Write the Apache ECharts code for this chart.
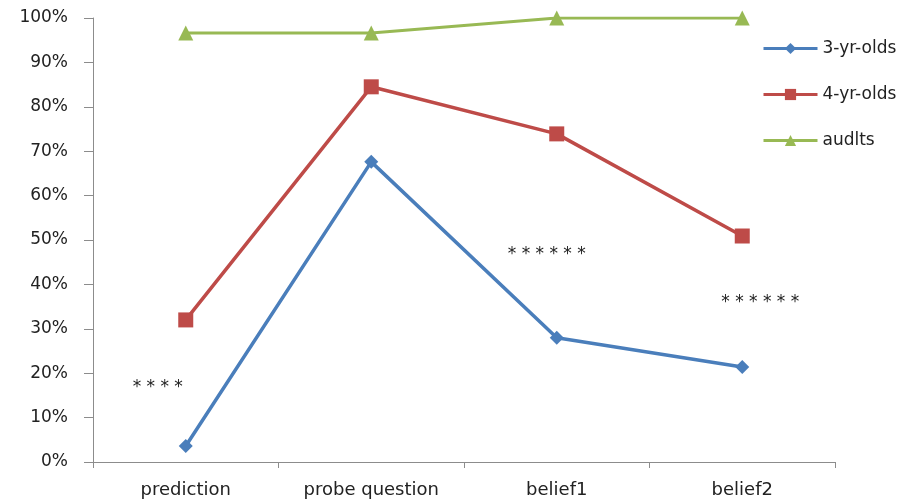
<!DOCTYPE html>
<html><head><meta charset="utf-8">
<script src="https://cdn.jsdelivr.net/npm/echarts@6/dist/echarts.min.js"></script>
<style>html,body{margin:0;padding:0;background:#fff}#c{width:917px;height:502px}</style>
</head><body><div id="c"></div>
<script>
var categories = ['prediction', 'probe question', 'belief1', 'belief2'];
var threeYr = [0.036, 0.676, 0.28, 0.214];
var fourYr = [0.32, 0.845, 0.739, 0.509];
var adults = [0.966, 0.966, 1.0, 1.0];
var yTicks = [0, 0.1, 0.2, 0.3, 0.4, 0.5, 0.6, 0.7, 0.8, 0.9, 1.0];
var annotations = [
  {cat: 'prediction', value: 0.168, text: '* * * *', dx: -28},
  {cat: 'belief1', value: 0.468, text: '* * * * * *', dx: -10},
  {cat: 'belief2', value: 0.358, text: '* * * * * *', dx: 18}
];

var font = 'DejaVu Sans';
var chart = echarts.init(document.getElementById('c'));
chart.setOption({
  animation: false,
  backgroundColor: '#fff',
  grid: {left: 93, right: 82, top: 18, bottom: 40, containLabel: false},
  legend: {
    orient: 'vertical', left: 757, top: 35,
    itemWidth: 54, itemHeight: 14, itemGap: 29,
    lineStyle: {width: 3},
    textStyle: {fontFamily: font, fontSize: 17, color: '#222'},
    data: ['3-yr-olds', '4-yr-olds', 'audlts']
  },
  xAxis: {
    type: 'category', data: categories, boundaryGap: true,
    axisLine: {lineStyle: {color: '#8c8c8c', width: 1}},
    axisTick: {show: true, length: 6, alignWithLabel: false, lineStyle: {color: '#8c8c8c'}},
    axisLabel: {fontFamily: font, fontSize: 18, color: '#222', margin: 19}
  },
  yAxis: {
    type: 'value', min: 0, max: 1, interval: 0.1,
    splitLine: {show: false},
    axisLine: {show: true, lineStyle: {color: '#8c8c8c', width: 1}},
    axisTick: {show: true, length: 9, lineStyle: {color: '#8c8c8c'}},
    axisLabel: {fontFamily: font, fontSize: 17, color: '#222', margin: 25,
      formatter: function (v) { return Math.round(v * 100) + '%'; }}
  },
  series: [
    {name: '3-yr-olds', type: 'line', data: threeYr, symbol: 'diamond', symbolSize: 14,
     color: '#4a7ebb', lineStyle: {width: 3.5}, itemStyle: {color: '#4a7ebb'},
     markPoint: {
       symbol: 'circle', symbolSize: 0, silent: true,
       label: {show: true, fontFamily: font, fontSize: 17, color: '#222'},
       data: annotations.map(function (a) {
         return {coord: [a.cat, a.value], value: a.text,
           label: {formatter: a.text, offset: [a.dx, 0]}};
       })
     }},
    {name: '4-yr-olds', type: 'line', data: fourYr, symbol: 'rect', symbolSize: 15,
     color: '#be4b48', lineStyle: {width: 3.5}, itemStyle: {color: '#be4b48'}},
    {name: 'audlts', type: 'line', data: adults, symbol: 'triangle', symbolSize: 15,
     color: '#98b954', lineStyle: {width: 3}, itemStyle: {color: '#98b954'}}
  ]
});
</script></body></html>
